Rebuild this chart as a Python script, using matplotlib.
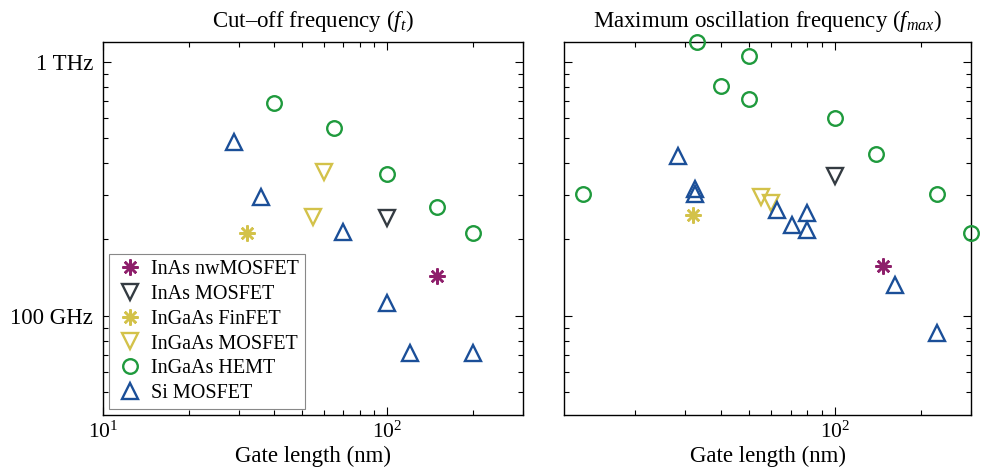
import numpy as np
import matplotlib
matplotlib.use('Agg')
import matplotlib.pyplot as plt
from matplotlib.ticker import FixedLocator, LogLocator, NullFormatter, FixedFormatter
from matplotlib.lines import Line2D

matplotlib.rcParams['font.family'] = ['Liberation Serif', 'DejaVu Serif']
matplotlib.rcParams['mathtext.fontset'] = 'custom'
matplotlib.rcParams['mathtext.rm'] = 'Liberation Serif'
matplotlib.rcParams['mathtext.it'] = 'Liberation Serif:italic'
matplotlib.rcParams['xtick.direction'] = 'in'
matplotlib.rcParams['ytick.direction'] = 'in'

# gate length (nm), frequency (GHz)
# --- cut-off frequency ft ---
ft_nw_L, ft_nw_f = [150], [143]
ft_inas_L, ft_inas_f = [100], [243]
ft_fin_L, ft_fin_f = [32], [212]
ft_igmos_L, ft_igmos_f = [60, 55], [369, 245]
ft_hemt_L, ft_hemt_f = [40, 65, 100, 150, 200], [690, 550, 362, 269, 212]
ft_si_L, ft_si_f = [29, 36, 70, 100, 120, 200], [484, 294, 214, 112, 71.5, 71.5]

# --- maximum oscillation frequency fmax ---
fm_nw_L, fm_nw_f = [148], [157]
fm_inas_L, fm_inas_f = [100], [356]
fm_fin_L, fm_fin_f = [32], [250]
fm_igmos_L, fm_igmos_f = [55, 60], [294, 279]
fm_hemt_L = [13.2, 33, 40, 50, 50, 100, 139, 228, 300]
fm_hemt_f = [302, 1200, 805, 1056, 714, 602, 435, 302, 212]
fm_si_L = [28.3, 32.4, 32.4, 63, 71, 80, 80, 162, 227]
fm_si_f = [426, 316, 302, 261, 228, 255, 218, 132, 86]

labels = ['InAs nwMOSFET', 'InAs MOSFET', 'InGaAs FinFET',
          'InGaAs MOSFET', 'InGaAs HEMT', 'Si MOSFET']

c_nw = '#8e1f6b'
c_inas = '#343b42'
c_yel = '#d3c24a'
c_green = '#1f9a3d'
c_blue = '#1b4f98'
star = (8, 2, 0)

styles = [
    dict(marker=star, color=c_nw, ms=11.5, mew=1.8),
    dict(marker='v', color=c_inas, ms=11, mew=1.7, mfc='none'),
    dict(marker=star, color=c_yel, ms=11.5, mew=1.8),
    dict(marker='v', color=c_yel, ms=11, mew=1.7, mfc='none'),
    dict(marker='o', color=c_green, ms=10.5, mew=1.7, mfc='none'),
    dict(marker='^', color=c_blue, ms=11, mew=1.7, mfc='none'),
]

fig = plt.figure(figsize=(9.81, 4.76), dpi=100)
ax1 = fig.add_axes([0.105, 0.128, 0.428, 0.784])
ax2 = fig.add_axes([0.575, 0.128, 0.415, 0.784])

ft_sets = [(ft_nw_L, ft_nw_f), (ft_inas_L, ft_inas_f), (ft_fin_L, ft_fin_f),
           (ft_igmos_L, ft_igmos_f), (ft_hemt_L, ft_hemt_f), (ft_si_L, ft_si_f)]
fm_sets = [(fm_nw_L, fm_nw_f), (fm_inas_L, fm_inas_f), (fm_fin_L, fm_fin_f),
           (fm_igmos_L, fm_igmos_f), (fm_hemt_L, fm_hemt_f), (fm_si_L, fm_si_f)]

for ax, sets in [(ax1, ft_sets), (ax2, fm_sets)]:
    for (L, f), st in zip(sets, styles):
        ax.plot(L, f, ls='none', clip_on=False, zorder=3, **st)
    ax.set_xscale('log')
    ax.set_yscale('log')
    ax.set_ylim(40.7, 1200)
    ax.tick_params(which='both', top=True, right=True, width=0.8)
    ax.tick_params(axis='y', labelsize=16.5, pad=7)
    ax.tick_params(axis='x', labelsize=15.5, pad=5)
    ax.tick_params(which='major', length=6)
    ax.tick_params(which='minor', length=3.5)
    ax.yaxis.set_major_locator(FixedLocator([100, 1000]))
    ax.yaxis.set_minor_locator(LogLocator(base=10, subs=np.arange(2, 10)))
    ax.yaxis.set_minor_formatter(NullFormatter())
    ax.xaxis.set_major_locator(FixedLocator([10, 100]))
    ax.xaxis.set_major_formatter(FixedFormatter(['$10^1$', '$10^2$']))
    ax.xaxis.set_minor_locator(LogLocator(base=10, subs=np.arange(2, 10)))
    ax.xaxis.set_minor_formatter(NullFormatter())
    ax.set_xlabel('Gate length (nm)', fontsize=16.5, labelpad=2)
    for s in ax.spines.values():
        s.set_linewidth(1.0)

ax1.set_xlim(10, 300)
ax2.set_xlim(11.3, 300)
ax1.yaxis.set_major_formatter(FixedFormatter(['100 GHz', '1 THz']))
ax2.set_yticklabels([])

ax1.set_title('Cut\u2013off frequency ($f_t$)', fontsize=16.5, pad=11)
ax2.set_title('Maximum oscillation frequency ($f_{max}$)', fontsize=16.5, pad=11)

handles = [Line2D([], [], ls='none', **st) for st in styles]
leg = ax1.legend(handles, labels, loc='lower left', fontsize=14.5,
                 frameon=True, fancybox=False, framealpha=1,
                 edgecolor='#888888', borderaxespad=0.3,
                 handletextpad=0.3, labelspacing=0.28, borderpad=0.3,
                 handlelength=1.5)
leg.get_frame().set_linewidth(0.8)

fig.savefig('out.png', dpi=100)
